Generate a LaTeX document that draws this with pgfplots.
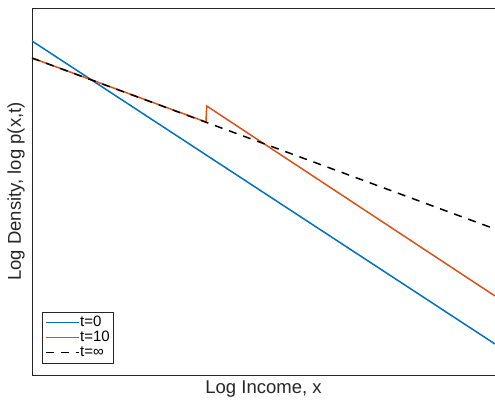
\documentclass[border=0pt]{standalone}
\usepackage{pgfplots}
\pgfplotsset{compat=1.18}
\usepackage{fontspec}
\setmainfont{Liberation Sans}
\definecolor{mblue}{rgb}{0,0.447,0.741}
\definecolor{morange}{rgb}{0.85,0.325,0.098}
\definecolor{axgray}{rgb}{0.15,0.15,0.15}
\pgfplotsset{
  mylegline/.style={legend image code/.code={\draw[line width=1.5pt,##1] (0pt,0pt) -- (33pt,0pt);}},
  mydashline/.style={legend image code/.code={\draw[line width=1.5pt,##1,solid] (0pt,0pt) -- (8.5pt,0pt) (15pt,0pt) -- (23.5pt,0pt); \path (0pt,0pt) -- (33pt,0pt);}},
}
\begin{document}
\begin{tikzpicture}
\useasboundingbox (-32pt,-25pt) rectangle (463pt,375pt);
\begin{axis}[
  at={(0,0)}, anchor=south west,
  scale only axis, width=463pt, height=367pt,
  xmin=32, xmax=495, ymin=-375, ymax=-8,
  xtick=\empty, ytick=\empty,
  axis line style={axgray, line width=0.7pt},
  font=\fontsize{18.5}{22}\selectfont,
  xlabel={Log Income, x},
  ylabel={Log Density, log p(x,t)},
  xlabel style={at={(axis description cs:0.5,-0.01635)}, anchor=north, inner sep=0pt, text=axgray},
  ylabel style={at={(axis description cs:-0.0151,0.5)}, anchor=south, inner sep=0pt, text=axgray},
  legend cell align=left,
  legend style={at={(axis description cs:0,0)}, anchor=south west, xshift=10pt, yshift=12pt,
    draw=axgray, fill=white, inner sep=3pt,
    font=\fontsize{15}{15}\selectfont,
    nodes={inner sep=0.5pt, text height=11pt, text depth=3pt},
    row sep=0pt},
  mylegline,
]
\addplot[mblue, line width=1.5pt] coordinates {(32,-41) (495,-344)};
\addlegendentry{t=0}
\addplot[morange, line width=1.5pt] coordinates {(32,-58) (206,-122) (206.7,-106) (495,-296)};
\addlegendentry{t=10}
\addplot[black, line width=1.5pt, dash pattern=on 8pt off 7pt, mydashline]
  coordinates {(32,-58) (495,-229)};
\addlegendentry{t=∞}
\end{axis}
\end{tikzpicture}
\end{document}
